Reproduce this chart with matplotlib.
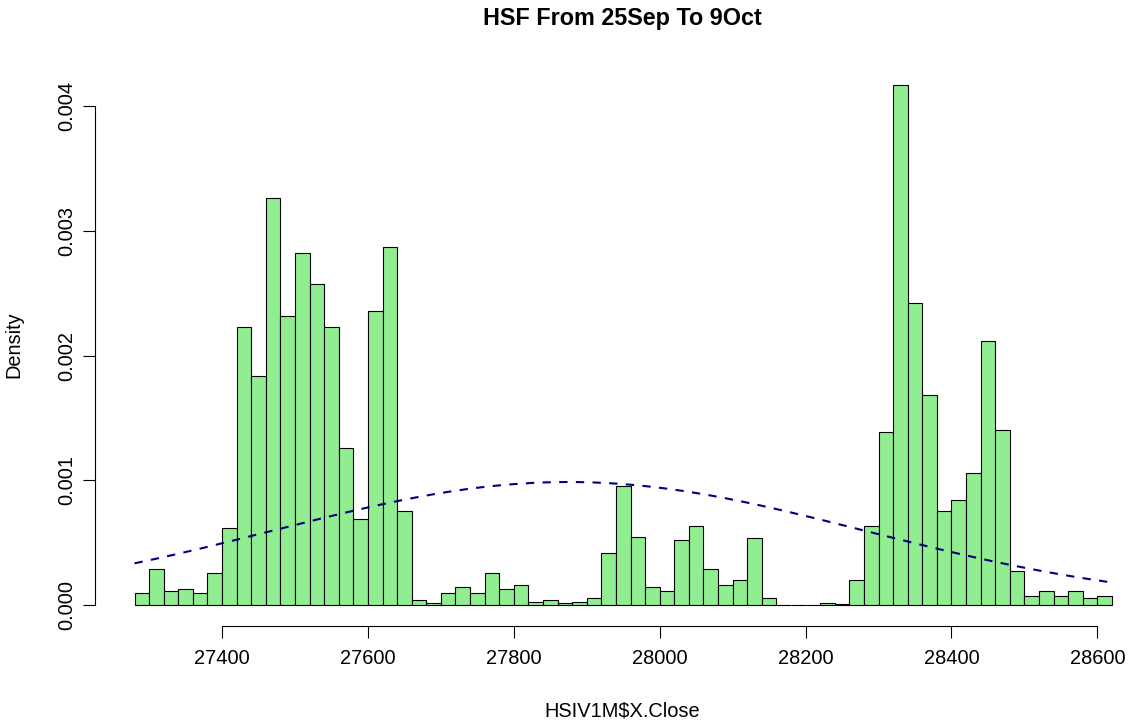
import numpy as np
import matplotlib
matplotlib.use("Agg")
import matplotlib.pyplot as plt

plt.rcParams['font.family'] = ['Liberation Sans', 'DejaVu Sans']

# histogram of HSIV1M$X.Close, breaks every 20 points
bin_start = 27280
bin_width = 20
density = [
    0.000094, 0.000287, 0.000110, 0.000127, 0.000094, 0.000257, 0.000615,
    0.002227, 0.001835, 0.003267, 0.002315, 0.002820, 0.002572, 0.002227,
    0.001256, 0.000687, 0.002354, 0.002867, 0.000756, 0.000037,
    0.000013, 0.000094, 0.000142, 0.000094, 0.000254, 0.000126, 0.000158,
    0.000021, 0.000037, 0.000013, 0.000021, 0.000053, 0.000414, 0.000951,
    0.000542, 0.000142, 0.000110, 0.000518, 0.000630, 0.000286, 0.000158,
    0.000198, 0.000534, 0.000053, 0.0, 0.0, 0.0, 0.000013, 0.000011,
    0.000197, 0.000630, 0.001384, 0.004165, 0.002419, 0.001687, 0.000751,
    0.000846, 0.001055, 0.002120, 0.001400, 0.000270, 0.000070, 0.000110,
    0.000070, 0.000110, 0.000053, 0.000070,
]
# normal curve laid over the histogram
mu = 27875
sigma = 404.5

x_ticks = [27400, 27600, 27800, 28000, 28200, 28400, 28600]
y_ticks = [0.0, 0.001, 0.002, 0.003, 0.004]

lefts = bin_start + bin_width * np.arange(len(density))
edges = np.append(lefts, lefts[-1] + bin_width)

fig = plt.figure(figsize=(11.32, 7.24), dpi=100)
ax = fig.add_axes([0.0843, 0.1356, 0.9325, 0.7751])

ax.bar(lefts, density, width=bin_width, align='edge',
       color='#90EE90', edgecolor='black', linewidth=0.8)

xs = np.linspace(edges[0], edges[-1], 400)
ys = np.exp(-0.5 * ((xs - mu) / sigma) ** 2) / (sigma * np.sqrt(2 * np.pi))
ax.plot(xs, ys, color='#000080', linewidth=1.5, linestyle=(0, (4, 4)))

ax.set_xlim(27226.4, 28673.6)
ax.set_ylim(-0.0001666, 0.004332)

ax.set_xticks(x_ticks)
ax.set_xticklabels([str(t) for t in x_ticks])
ax.set_yticks(y_ticks)
ax.set_yticklabels(['%.3f' % t for t in y_ticks], rotation=90, va='center')
ax.tick_params(axis='both', direction='out', length=8.6, width=0.8,
               labelsize=14.4)
ax.tick_params(axis='x', pad=8)
ax.tick_params(axis='y', pad=5)

for s in ['top', 'right']:
    ax.spines[s].set_visible(False)
ax.spines['left'].set_bounds(0, 0.004)
ax.spines['bottom'].set_bounds(27400, 28600)
ax.spines['left'].set_linewidth(0.8)
ax.spines['bottom'].set_linewidth(0.8)

fig.text(622.5 / 1132, 1 - 18 / 724, 'HSF From 25Sep To 9Oct',
         ha='center', va='center', fontsize=16.8, fontweight='bold')
fig.text(622.5 / 1132, 1 - 711 / 724, 'HSIV1M$X.Close',
         ha='center', va='center', fontsize=14.4)
fig.text(14 / 1132, 1 - 345 / 724, 'Density', rotation=90,
         ha='center', va='center', fontsize=14.4)

fig.savefig('out.png', dpi=100)
